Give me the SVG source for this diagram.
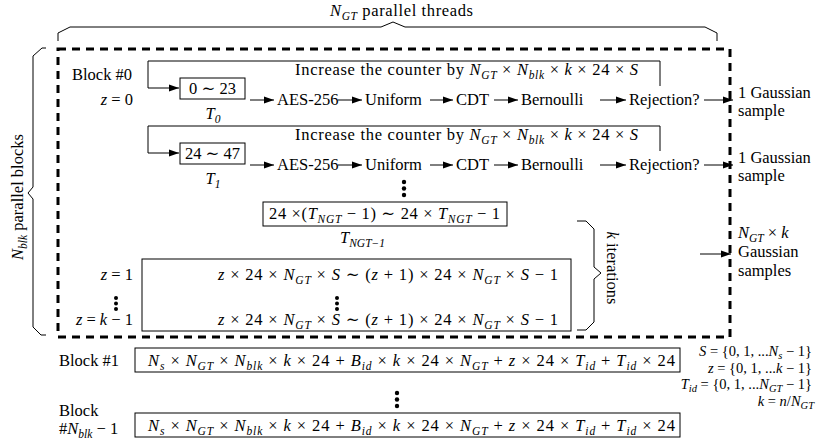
<svg xmlns="http://www.w3.org/2000/svg" width="835" height="444" viewBox="0 0 835 444">
<style>
.t{font-family:"Liberation Serif","DejaVu Serif","Times New Roman",serif;font-size:16.5px;fill:#000}
.lg{font-size:14.5px}
.i{font-style:italic}
.sb{font-style:italic;font-size:11.5px;baseline-shift:-3.5px}
.lg .sb{font-size:10.5px;baseline-shift:-3px}
.box{fill:none;stroke:#000;stroke-width:1}
.ln{fill:none;stroke:#000;stroke-width:1}
.arr{marker-end:url(#ah)}
.dash{fill:none;stroke:#000;stroke-width:3;stroke-dasharray:8 6}
.dot{fill:#000}
</style>
<defs>
<marker id="ah" markerWidth="11" markerHeight="8" refX="10" refY="4" orient="auto" markerUnits="userSpaceOnUse"><path d="M0,0.5 L10,4 L0,7.5 z" fill="#000"/></marker>
</defs>
<rect width="835" height="444" fill="#fff"/>

<g id="frame">
<rect class="dash" x="58" y="49" width="672" height="288"/>
<path class="ln" d="M58,41 V33 L70,27 H381 L393,22 L405,27 H705 L717,33 V41"/>
<text class="t" x="330" y="16" textLength="143"><tspan class="i">N</tspan><tspan class="sb">GT</tspan> parallel threads</text>
<path class="ln" d="M46,48 H42 L33,56 V187 L28,193 L33,199 V327 L41,335 H46"/>
<text class="t" transform="translate(23,197) rotate(-90)" text-anchor="middle"><tspan class="i">N</tspan><tspan class="sb">blk</tspan> parallel blocks</text>
<path class="ln" d="M577,221 H586 L594,229 V267 L601,273 L594,279 V322 L586,330 H577"/>
<text class="t" transform="translate(607,268) rotate(90)" text-anchor="middle"><tspan class="i">k</tspan> iterations</text>
</g>

<g id="thread0">
<text class="t" x="72" y="80">Block #0</text>
<text class="t" x="133" y="105" text-anchor="end"><tspan class="i">z</tspan> = 0</text>
<text class="t" x="295" y="75" textLength="343">Increase the counter by <tspan class="i">N</tspan><tspan class="sb">GT</tspan> × <tspan class="i">N</tspan><tspan class="sb">blk</tspan> × <tspan class="i">k</tspan> × 24 × <tspan class="i">S</tspan></text>
<rect class="box" x="180" y="78" width="65" height="21"/>
<text class="t" x="212.5" y="93.5" text-anchor="middle">0 ∼ 23</text>
<text class="t" x="213" y="119" text-anchor="middle"><tspan class="i">T</tspan><tspan class="sb" font-style="normal">0</tspan></text>
<text class="t" x="277" y="105">AES-256</text>
<text class="t" x="365" y="105">Uniform</text>
<text class="t" x="456" y="105">CDT</text>
<text class="t" x="521" y="105">Bernoulli</text>
<text class="t" x="629" y="105">Rejection?</text>
<text class="t" x="738" y="98">1 Gaussian</text>
<text class="t" x="738" y="116">sample</text>
</g>

<g id="thread1">
<text class="t" x="295" y="140" textLength="343">Increase the counter by <tspan class="i">N</tspan><tspan class="sb">GT</tspan> × <tspan class="i">N</tspan><tspan class="sb">blk</tspan> × <tspan class="i">k</tspan> × 24 × <tspan class="i">S</tspan></text>
<rect class="box" x="180" y="143" width="65" height="21"/>
<text class="t" x="212.5" y="158.5" text-anchor="middle">24 ∼ 47</text>
<text class="t" x="213" y="184" text-anchor="middle"><tspan class="i">T</tspan><tspan class="sb" font-style="normal">1</tspan></text>
<text class="t" x="277" y="170">AES-256</text>
<text class="t" x="365" y="170">Uniform</text>
<text class="t" x="456" y="170">CDT</text>
<text class="t" x="521" y="170">Bernoulli</text>
<text class="t" x="629" y="170">Rejection?</text>
<text class="t" x="738" y="163">1 Gaussian</text>
<text class="t" x="738" y="181">sample</text>
</g>

<g id="dots1">
<circle class="dot" cx="404" cy="182" r="2.2"/><circle class="dot" cx="404" cy="188.5" r="2.2"/><circle class="dot" cx="404" cy="195" r="2.2"/>
</g>

<g id="threadLast">
<rect class="box" x="263" y="202" width="244" height="24"/>
<text class="t" x="269" y="219" textLength="231">24 ×(<tspan class="i">T</tspan><tspan class="sb">N</tspan><tspan class="sb" font-size="8.5px" baseline-shift="-5.5px">GT</tspan> − 1) ∼ 24 × <tspan class="i">T</tspan><tspan class="sb">N</tspan><tspan class="sb" font-size="8.5px" baseline-shift="-5.5px">GT</tspan> − 1</text>
<text class="t" x="340" y="243"><tspan class="i">T</tspan><tspan class="sb">N</tspan><tspan class="sb" font-size="8.5px" baseline-shift="-5.5px">GT</tspan><tspan class="sb" font-style="normal">−1</tspan></text>
</g>

<g id="iterations">
<text class="t" x="133" y="280" text-anchor="end"><tspan class="i">z</tspan> = 1</text>
<circle class="dot" cx="116" cy="298" r="2"/><circle class="dot" cx="116" cy="303.5" r="2"/><circle class="dot" cx="116" cy="309" r="2"/>
<text class="t" x="133" y="325" text-anchor="end"><tspan class="i">z</tspan> = <tspan class="i">k</tspan> − 1</text>
<rect class="box" x="142" y="259" width="429" height="72"/>
<text class="t" x="218" y="280" textLength="340"><tspan class="i">z</tspan> × 24 × <tspan class="i">N</tspan><tspan class="sb">GT</tspan> × <tspan class="i">S</tspan> ∼ (<tspan class="i">z</tspan> + 1) × 24 × <tspan class="i">N</tspan><tspan class="sb">GT</tspan> × <tspan class="i">S</tspan> − 1</text>
<circle class="dot" cx="337" cy="298" r="2"/><circle class="dot" cx="337" cy="303.5" r="2"/><circle class="dot" cx="337" cy="309" r="2"/>
<text class="t" x="218" y="325" textLength="340"><tspan class="i">z</tspan> × 24 × <tspan class="i">N</tspan><tspan class="sb">GT</tspan> × <tspan class="i">S</tspan> ∼ (<tspan class="i">z</tspan> + 1) × 24 × <tspan class="i">N</tspan><tspan class="sb">GT</tspan> × <tspan class="i">S</tspan> − 1</text>
</g>

<g id="output">
<text class="t" x="738" y="238"><tspan class="i">N</tspan><tspan class="sb">GT</tspan> × <tspan class="i">k</tspan></text>
<text class="t" x="738" y="257">Gaussian</text>
<text class="t" x="738" y="276">samples</text>
</g>

<g id="block1">
<text class="t" x="59" y="366">Block #1</text>
<rect class="box" x="135" y="348" width="545" height="24"/>
<text class="t" x="148" y="366" textLength="527"><tspan class="i">N</tspan><tspan class="sb">s</tspan> × <tspan class="i">N</tspan><tspan class="sb">GT</tspan> × <tspan class="i">N</tspan><tspan class="sb">blk</tspan> × <tspan class="i">k</tspan> × 24 + <tspan class="i">B</tspan><tspan class="sb">id</tspan> × <tspan class="i">k</tspan> × 24 × <tspan class="i">N</tspan><tspan class="sb">GT</tspan> + <tspan class="i">z</tspan> × 24 × <tspan class="i">T</tspan><tspan class="sb">id</tspan> + <tspan class="i">T</tspan><tspan class="sb">id</tspan> × 24</text>
</g>

<g id="dots2">
<circle class="dot" cx="397" cy="393" r="2.2"/><circle class="dot" cx="397" cy="399.5" r="2.2"/><circle class="dot" cx="397" cy="406" r="2.2"/>
</g>

<g id="blockLast">
<text class="t" x="59" y="416">Block</text>
<text class="t" x="59" y="434">#<tspan class="i">N</tspan><tspan class="sb">blk</tspan> − 1</text>
<rect class="box" x="135" y="413" width="545" height="24"/>
<text class="t" x="148" y="431" textLength="527"><tspan class="i">N</tspan><tspan class="sb">s</tspan> × <tspan class="i">N</tspan><tspan class="sb">GT</tspan> × <tspan class="i">N</tspan><tspan class="sb">blk</tspan> × <tspan class="i">k</tspan> × 24 + <tspan class="i">B</tspan><tspan class="sb">id</tspan> × <tspan class="i">k</tspan> × 24 × <tspan class="i">N</tspan><tspan class="sb">GT</tspan> + <tspan class="i">z</tspan> × 24 × <tspan class="i">T</tspan><tspan class="sb">id</tspan> + <tspan class="i">T</tspan><tspan class="sb">id</tspan> × 24</text>
</g>

<g id="legend">
<text class="t lg" x="812" y="356" text-anchor="end"><tspan class="i">S</tspan> = {0, 1, ...<tspan class="i">N</tspan><tspan class="sb">s</tspan> − 1}</text>
<text class="t lg" x="812" y="372.5" text-anchor="end"><tspan class="i">z</tspan> = {0, 1, ...<tspan class="i">k</tspan> − 1}</text>
<text class="t lg" x="812" y="389" text-anchor="end"><tspan class="i">T</tspan><tspan class="sb">id</tspan> = {0, 1, ...<tspan class="i">N</tspan><tspan class="sb">GT</tspan> − 1}</text>
<text class="t lg" x="814" y="405.5" text-anchor="end"><tspan class="i">k</tspan> = <tspan class="i">n</tspan>/<tspan class="i">N</tspan><tspan class="sb">GT</tspan></text>
</g>

<g id="connectors">
<path class="ln arr" d="M660,86 V61 H148 V88 H179"/>
<path class="ln arr" d="M660,151 V126 H148 V153 H179"/>
<path class="ln arr" d="M250,100 H274"/>
<path class="ln arr" d="M338,100 H362"/>
<path class="ln arr" d="M430,100 H453"/>
<path class="ln arr" d="M494,100 H518"/>
<path class="ln arr" d="M600,100 H626"/>
<path class="ln arr" d="M704,100 H733"/>
<path class="ln arr" d="M250,165 H274"/>
<path class="ln arr" d="M338,165 H362"/>
<path class="ln arr" d="M430,165 H453"/>
<path class="ln arr" d="M494,165 H518"/>
<path class="ln arr" d="M600,165 H626"/>
<path class="ln arr" d="M704,165 H733"/>
<path class="ln arr" d="M700,254 H731"/>
</g>
</svg>
